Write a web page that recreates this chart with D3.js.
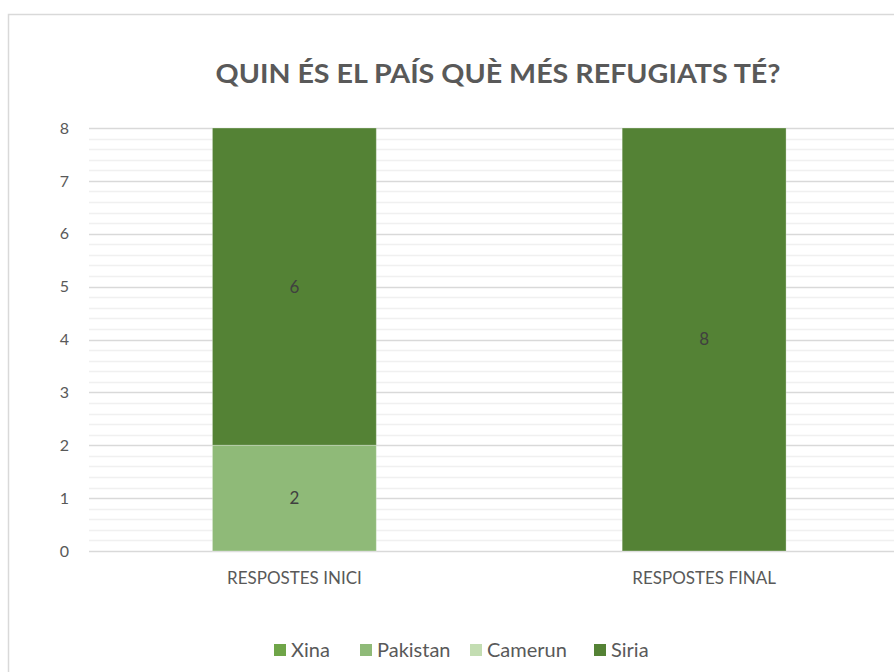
<!DOCTYPE html>
<html><head><meta charset="utf-8">
<script src="https://cdn.jsdelivr.net/npm/d3@7"></script>
<style>body{margin:0;background:#fff;overflow:hidden}svg{display:block}text{font-family:Lato,"Open Sans",sans-serif}</style>
</head><body><svg id="c" width="894" height="672"></svg>
<script>
const title = "QUIN ÉS EL PAÍS QUÈ MÉS REFUGIATS TÉ?";
const categories = ["RESPOSTES INICI", "RESPOSTES FINAL"];
const seriesNames = ["Xina", "Pakistan", "Camerun", "Siria"];
const xinaValues = [0, 0];
const pakistanValues = [2, 0];
const camerunValues = [0, 0];
const siriaValues = [6, 8];
const yTicks = [0, 1, 2, 3, 4, 5, 6, 7, 8];
const colors = ["#6FA548", "#8FBA78", "#C3DDB2", "#548235"];

const svg = d3.select("#c");
const W = 894, H = 672;
svg.append("rect").attr("x", 8.5).attr("y", 14.5).attr("width", W + 20).attr("height", H + 20)
  .attr("fill", "#fff").attr("stroke", "#d9d9d9").attr("stroke-width", 1.5);

const rows = categories.map((c, i) => ({cat: c, Xina: xinaValues[i], Pakistan: pakistanValues[i], Camerun: camerunValues[i], Siria: siriaValues[i]}));
const stacked = d3.stack().keys(seriesNames)(rows);

const x = d3.scaleBand().domain(categories).range([89.5, 909]).paddingInner(0).paddingOuter(0);
const y = d3.scaleLinear().domain([0, 8]).range([551, 128]);
const barW = x.bandwidth() / 2.5;

// minor grid
const minor = d3.range(0, 8.0001, 0.2).filter(v => Math.abs(v - Math.round(v)) > 1e-6);
svg.append("g").selectAll("line").data(minor).join("line")
  .attr("x1", 89).attr("x2", W).attr("y1", d => Math.round(y(d)) + 0.5).attr("y2", d => Math.round(y(d)) + 0.5)
  .attr("stroke", "#f0f0f0").attr("stroke-width", 1.5);
// major grid
svg.append("g").selectAll("line").data(yTicks).join("line")
  .attr("x1", 89).attr("x2", W).attr("y1", d => Math.round(y(d)) + 0.5).attr("y2", d => Math.round(y(d)) + 0.5)
  .attr("stroke", "#d9d9d9").attr("stroke-width", 1.5);

// y axis labels
const yAxis = d3.axisLeft(y).tickValues(yTicks).tickSize(0).tickPadding(0).tickFormat(d3.format("d"));
const ya = svg.append("g").attr("transform", "translate(69,0)").call(yAxis);
ya.select(".domain").remove();
ya.selectAll("text").attr("font-size", 16).attr("fill", "#595959").attr("font-family", "Lato, sans-serif");

// bars
stacked.forEach((s, si) => {
  svg.append("g").selectAll("rect").data(s.filter(d => d[1] - d[0] > 0)).join("rect")
    .attr("x", d => x(d.data.cat) + (x.bandwidth() - barW) / 2)
    .attr("width", barW)
    .attr("y", d => y(d[1]))
    .attr("height", d => y(d[0]) - y(d[1]))
    .attr("fill", colors[si])
    .attr("stroke", "rgba(255,255,255,0.3)").attr("stroke-width", 1);
  svg.append("g").selectAll("text").data(s.filter(d => d[1] - d[0] > 0)).join("text")
    .attr("x", d => x(d.data.cat) + x.bandwidth() / 2)
    .attr("y", d => (y(d[0]) + y(d[1])) / 2)
    .attr("dy", "0.35em").attr("text-anchor", "middle")
    .attr("font-size", 17).attr("fill", "#404040")
    .text(d => d[1] - d[0]);
});

// x axis labels
const xAxis = d3.axisBottom(x).tickSize(0).tickPadding(0);
const xa = svg.append("g").attr("transform", "translate(0,578)").call(xAxis);
xa.select(".domain").remove();
xa.selectAll("text").attr("font-size", 17).attr("fill", "#595959").attr("dy", "0.35em").attr("font-family", "Lato, sans-serif");

// title
svg.append("text").attr("x", 498).attr("y", 83).attr("text-anchor", "middle")
  .attr("font-size", 27).attr("font-weight", 700).attr("fill", "#595959")
  .attr("textLength", 565).attr("lengthAdjust", "spacingAndGlyphs")
  .text(title);

// legend
const legX = [274, 360, 470, 594];
const lg = svg.append("g").selectAll("g").data(seriesNames).join("g")
  .attr("transform", (d, i) => `translate(${legX[i]},650)`);
lg.append("rect").attr("x", 0).attr("y", -6).attr("width", 12).attr("height", 12).attr("fill", (d, i) => colors[i]);
lg.append("text").attr("x", 17).attr("dy", "0.35em").attr("font-size", 20).attr("fill", "#595959").text(d => d);
</script></body></html>
